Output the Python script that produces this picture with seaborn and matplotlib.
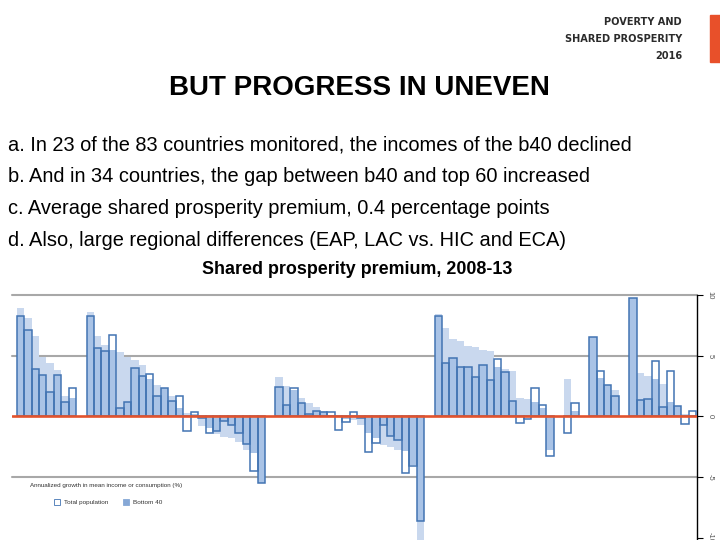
import numpy as np
import pandas as pd
import matplotlib
matplotlib.use('Agg')
import matplotlib.pyplot as plt
import seaborn as sns
from matplotlib.patches import Patch, Rectangle
from matplotlib import font_manager

# ---------------- data (annualized growth, %, 2008-13) ----------------
regions = ['EAP', 'ECA', 'HIC', 'LAC', 'MNA', 'SAR', 'SSA']

eap_total = [8.3, 7.1, 3.9, 3.4, 2.0, 3.4, 1.2, 2.3]
eap_b40 = [8.9, 8.1, 6.6, 4.9, 4.4, 3.8, 1.7, 1.5]

eca_total = [8.3, 5.6, 5.4, 6.7, 0.7, 1.2, 4.0, 3.3, 3.5, 1.7, 2.3, 1.3,
             1.7, -1.2, 0.35, -0.1, -1.4, -1.25, -0.4, -0.7, -1.4, -2.3, -4.5, -5.5]
eca_b40 = [8.6, 6.6, 5.9, 5.5, 5.3, 4.9, 4.6, 4.2, 3.1, 2.6, 2.3, 1.7,
           0.7, 0.3, 0.2, -0.8, -1.0, -1.5, -1.7, -1.8, -2.1, -2.75, -3.0, -5.5]

hic_total = [2.4, 0.9, 2.3, 1.1, 0.2, 0.4, 0.35, 0.35, -1.1, -0.5,
             0.35, -0.1, -2.95, -2.2, -0.7, -1.65, -1.95, -4.7, -4.1, -8.6]
hic_b40 = [3.2, 2.5, 2.2, 1.5, 1.1, 0.8, 0.4, 0.1, -0.05, -0.2,
           -0.3, -0.75, -1.4, -1.8, -2.35, -2.5, -2.75, -2.9, -4.0, -10.6]

lac_total = [8.3, 4.4, 4.8, 4.1, 4.05, 3.2, 4.2, 3.0, 4.75, 3.65, 1.3, -0.55, -0.2, 2.3, 0.95, -3.3]
lac_b40 = [8.4, 7.3, 6.4, 6.2, 5.8, 5.75, 5.5, 5.4, 4.1, 3.9, 3.7, 1.5, 1.4, 1.2, 0.7, -2.75]

mna_total = [-1.35, 1.1]
mna_b40 = [3.1, 0.4]

sar_total = [6.5, 3.75, 2.55, 1.7]
sar_b40 = [6.5, 3.15, 2.55, 2.15]

ssa_total = [9.75, 1.35, 1.4, 4.55, 0.75, 3.75, 0.85, -0.65, 0.45]
ssa_b40 = [9.75, 3.55, 3.35, 3.1, 2.7, 1.2, 0.85, 0.15, 0.1]

totals = [eap_total, eca_total, hic_total, lac_total, mna_total, sar_total, ssa_total]
b40s = [eap_b40, eca_b40, hic_b40, lac_b40, mna_b40, sar_b40, ssa_b40]

yticks = [-10, -5, 0, 5, 10]
legend_title = 'Annualized growth in mean income or consumption (%)'
legend_labels = ['Total population', 'Bottom 40']

# ---------------- table ----------------
GAP = 1.4
rows = []
start = 0.0
for reg, tv, bv in zip(regions, totals, b40s):
    for i, (t, b) in enumerate(zip(tv, bv)):
        rows.append(dict(region=reg, pos=round(start + i, 3), total=t, b40=b))
    start += len(tv) + GAP
df = pd.DataFrame(rows)
same = np.sign(df['total']) == np.sign(df['b40'])
df['overlap'] = np.where(same, np.sign(df['b40']) * np.minimum(df['total'].abs(), df['b40'].abs()), 0.0)

# ---------------- style ----------------
sns.set_style('white')
plt.rcParams['font.family'] = ['Liberation Sans', 'DejaVu Sans']

# pick a condensed bold face for the logo if one is installed
logo_family = None
logo_stretch = 'normal'
logo_size = 7.6
for f in font_manager.fontManager.ttflist:
    if f.name == 'Liberation Sans Narrow':
        logo_family, logo_size = 'Liberation Sans Narrow', 9.0
        break
if logo_family is None:
    for f in font_manager.fontManager.ttflist:
        if f.name in ('DejaVu Sans', 'DejaVu Sans Condensed') and f.stretch == 'condensed' and f.weight == 700:
            logo_family, logo_stretch, logo_size = f.name, 'condensed', 7.8
            break
if logo_family is None:
    logo_family = 'Liberation Sans'

PALE = '#c9d8ee'
MID = '#a9c3e6'
EDGE = '#4274b3'
GRID = '#a8a8a8'
RED = '#e2532d'

fig = plt.figure(figsize=(7.2, 5.4), dpi=100)
W, H = 720.0, 540.0

# header texts
for txt, yy in [('POVERTY AND', 22), ('SHARED PROSPERITY', 39), ('2016', 56)]:
    fig.text(682 / W, 1 - yy / H, txt, ha='right', va='center', fontsize=logo_size,
             fontweight='bold', fontstretch=logo_stretch, color='#2b2b2b',
             family=[logo_family, 'DejaVu Sans'])
fig.patches.append(Rectangle((710 / W, 1 - 62 / H), 12 / W, 47 / H,
                             transform=fig.transFigure, color='#e8502a', zorder=2))

fig.text(359 / W, 1 - 88 / H, 'BUT PROGRESS IN UNEVEN', ha='center', va='center',
         fontsize=20, fontweight='bold', color='black')

bullets = [
    'a. In 23 of the 83 countries monitored, the incomes of the b40 declined',
    'b. And in 34 countries, the gap between b40 and top 60 increased',
    'c. Average shared prosperity premium, 0.4 percentage points',
    'd. Also, large regional differences (EAP, LAC vs. HIC and ECA)',
]
for txt, yy in zip(bullets, [145, 177, 208, 240]):
    fig.text(8 / W, 1 - yy / H, txt, ha='left', va='center', fontsize=14.4, color='black')

fig.text(357 / W, 1 - 270 / H, 'Shared prosperity premium, 2008-13', ha='center',
         va='center', fontsize=12.9, fontweight='bold', color='black')

# ---------------- chart ----------------
ax = fig.add_axes([11.7 / W, 0, 685.3 / W, 245 / H])
ax.set_facecolor('none')

sns.barplot(data=df, x='pos', y='b40', native_scale=True, width=1.0, color=PALE,
            saturation=1, errorbar=None, linewidth=0, ax=ax, zorder=2)
sns.barplot(data=df, x='pos', y='overlap', native_scale=True, width=1.0, color=MID,
            saturation=1, errorbar=None, linewidth=0, ax=ax, zorder=3)
sns.barplot(data=df, x='pos', y='total', native_scale=True, width=1.0, color=EDGE,
            saturation=1, errorbar=None, fill=False, linewidth=1.1, ax=ax, zorder=4)

for v in [10, 5, -5]:
    ax.axhline(v, color=GRID, lw=1.5, zorder=1, clip_on=False)
ax.axhline(0, color=RED, lw=1.9, zorder=6)

ax.set_xlim(df['pos'].min() - 1.17, df['pos'].max() + 0.6)
ax.set_ylim(-10.2, 10)
ax.set_xticks([])
ax.set_xlabel('')
ax.set_ylabel('')
ax.yaxis.tick_right()
ax.set_yticks(yticks)
ax.set_yticklabels([str(t) for t in yticks], rotation=-90, va='center')
ax.tick_params(axis='y', direction='out', length=4, width=0.8, color='black',
               labelsize=5.5, labelcolor='#555555', pad=3)
for s in ['left', 'top', 'bottom']:
    ax.spines[s].set_visible(False)
ax.spines['right'].set_color('black')
ax.spines['right'].set_linewidth(1.0)

# legend
ax.text((106 - 11.7) / 685.3, (540 - 486) / 245, legend_title, transform=ax.transAxes,
        ha='center', va='center', fontsize=4.5, color='#333333')
handles = [Patch(facecolor='white', edgecolor=EDGE, linewidth=0.6),
           Patch(facecolor='#86a8d6', edgecolor='#86a8d6', linewidth=0.6)]
ax.legend(handles, legend_labels, loc='center',
          bbox_to_anchor=((108 - 11.7) / 685.3, (540 - 502) / 245),
          ncol=2, frameon=False, handlelength=1.0, handleheight=1.1,
          handletextpad=0.6, columnspacing=2.3, labelcolor='#333333',
          prop={'size': 4.6})

fig.savefig('out.png', dpi=100)
